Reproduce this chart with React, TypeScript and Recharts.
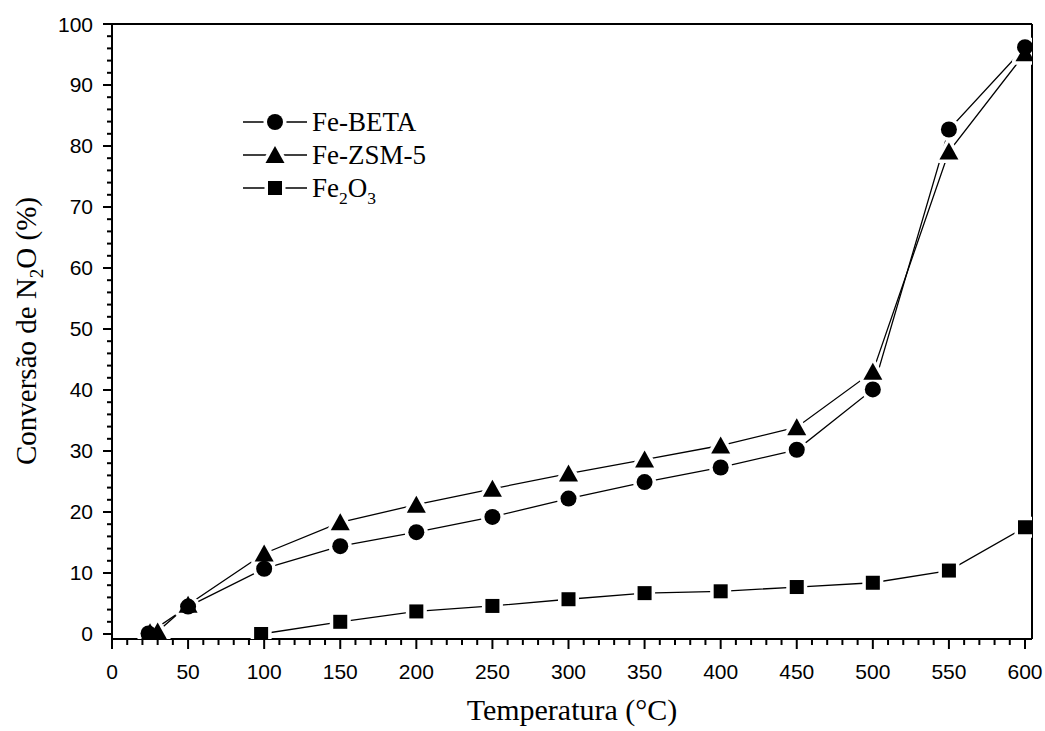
import { LineChart, Line, XAxis, YAxis, ReferenceLine } from 'recharts';

// Temperaturas (°C) e conversão de N2O (%)
const betaTemps = [24, 50, 100, 150, 200, 250, 300, 350, 400, 450, 500, 550, 600];
const betaValues = [0.1, 4.5, 10.7, 14.4, 16.7, 19.2, 22.2, 24.9, 27.3, 30.2, 40.1, 82.7, 96.2];

const zsmTemps = [25, 30, 50, 100, 150, 200, 250, 300, 350, 400, 450, 500, 550, 600];
const zsmValues = [0.3, 0.4, 4.8, 13.2, 18.3, 21.2, 23.8, 26.3, 28.6, 30.9, 33.9, 43.0, 79.1, 95.2];

const fe2o3Temps = [98, 150, 200, 250, 300, 350, 400, 450, 500, 550, 600];
const fe2o3Values = [0, 2.0, 3.7, 4.6, 5.7, 6.7, 7.0, 7.7, 8.4, 10.4, 17.5];

const xTicks = Array.from({ length: 61 }, (_, i) => i * 10);
const yTicks = Array.from({ length: 51 }, (_, i) => i * 2);
const X_MAX = 604.6;
const Y_MIN = -0.82;

type Shape = 'circle' | 'triangle' | 'square';

const series: { name: string; temps: number[]; values: number[]; shape: Shape }[] = [
  { name: 'Fe-BETA', temps: betaTemps, values: betaValues, shape: 'circle' },
  { name: 'Fe-ZSM-5', temps: zsmTemps, values: zsmValues, shape: 'triangle' },
  { name: 'Fe2O3', temps: fe2o3Temps, values: fe2o3Values, shape: 'square' },
];

const SANS = '"Liberation Sans", Arial, sans-serif';
const SERIF = '"Liberation Serif", "Times New Roman", serif';

function Marker({ cx, cy, shape, halo }: { cx: number; cy: number; shape: Shape; halo?: boolean }) {
  const st = halo ? { stroke: '#fff', strokeWidth: 7, fill: '#fff' } : { stroke: 'none', fill: '#000' };
  if (shape === 'circle') return <circle cx={cx} cy={cy} r={8} {...st} />;
  if (shape === 'square') return <rect x={cx - 7} y={cy - 7} width={14} height={14} {...st} />;
  return (
    <polygon
      points={`${cx},${cy - 9} ${cx + 9.5},${cy + 8} ${cx - 9.5},${cy + 8}`}
      strokeLinejoin="round"
      {...st}
    />
  );
}

// "Fe2O3" -> Fe₂O₃ com tspans
function Formula({ text, size }: { text: string; size: number }) {
  const parts = text.split(/(?<=[A-Za-z])(\d)/).filter((p) => p !== '');
  let prevSub = false;
  return (
    <>
      {parts.map((p, i) => {
        const sub = /^\d$/.test(p) && i > 0 && /[A-Za-z]$/.test(parts[i - 1]);
        const dy = sub && !prevSub ? size * 0.25 : !sub && prevSub ? -size * 0.25 : 0;
        prevSub = sub;
        return (
          <tspan key={i} dy={dy} fontSize={sub ? size * 0.65 : size}>
            {p}
          </tspan>
        );
      })}
    </>
  );
}

function XTick(props: any) {
  const { x, y, payload } = props;
  const v = Number(payload.value);
  const major = v % 50 === 0;
  return (
    <g>
      <line x1={x} x2={x} y1={y} y2={y + (major ? 10 : 6)} stroke="#000" strokeWidth={2} />
      <text x={x} y={y + 40} textAnchor="middle" fontFamily={SANS} fontSize={21} fill="#000">
        {major ? v : ''}
      </text>
    </g>
  );
}

function YTick(props: any) {
  const { x, y, payload } = props;
  const v = Number(payload.value);
  const major = v % 10 === 0;
  return (
    <g>
      <line x1={x} x2={x - (major ? 9 : 5)} y1={y} y2={y} stroke="#000" strokeWidth={2} />
      <text x={x - 19} y={y + 7.5} textAnchor="end" fontFamily={SANS} fontSize={21} fill="#000">
        {major ? v : ''}
      </text>
    </g>
  );
}

// legenda e títulos dos eixos, sobrepostos ao gráfico
function Overlay() {
  return (
    <svg width={1045} height={731} style={{ position: 'absolute', left: 0, top: 0, pointerEvents: 'none' }}>
      {series.map((s, i) => {
        const cy = 122 + i * 33;
        return (
          <g key={s.name}>
            <line x1={243} x2={307} y1={cy} y2={cy} stroke="#000" strokeWidth={1.3} />
            <Marker cx={275} cy={cy} shape={s.shape} halo />
            <Marker cx={275} cy={cy} shape={s.shape} />
            <text x={312} y={cy + 9} fontFamily={SERIF} fontSize={27} fill="#000">
              <Formula text={s.name} size={27} />
            </text>
          </g>
        );
      })}
      <text x={572} y={720} textAnchor="middle" fontFamily={SERIF} fontSize={30} fill="#000">
        Temperatura (°C)
      </text>
      <text
        x={36}
        y={331}
        transform="rotate(-90 36 331)"
        textAnchor="middle"
        fontFamily={SERIF}
        fontSize={29}
        fill="#000"
      >
        Conversão de N
        <tspan dy={7} fontSize={19}>2</tspan>
        <tspan dy={-7}>O (%)</tspan>
      </text>
    </svg>
  );
}

export default function App() {
  return (
    <div style={{ position: 'absolute', left: 0, top: 0, width: 1045, height: 731, background: '#fff' }}>
      <LineChart width={1045} height={731} margin={{ top: 24, right: 13, bottom: 0, left: 52 }}>
        <XAxis
          dataKey="t"
          type="number"
          domain={[0, X_MAX]}
          allowDataOverflow
          ticks={xTicks}
          interval={0}
          height={92}
          tickSize={0}
          tickMargin={0}
          tick={(p: any) => <XTick {...p} />}
          axisLine={{ stroke: '#000', strokeWidth: 2 }}
        />
        <YAxis
          type="number"
          domain={[Y_MIN, 100]}
          allowDataOverflow
          ticks={yTicks}
          interval={0}
          width={60}
          tickSize={0}
          tickMargin={0}
          tick={(p: any) => <YTick {...p} />}
          axisLine={{ stroke: '#000', strokeWidth: 2 }}
        />
        {/* moldura superior e direita */}
        <ReferenceLine y={100} stroke="#000" strokeWidth={2} />
        <ReferenceLine x={X_MAX} stroke="#000" strokeWidth={2} />
        {/* linhas finas com recorte branco ao redor dos símbolos */}
        {series.map((s) => (
          <Line
            key={s.name}
            data={s.temps.map((t, i) => ({ t, v: s.values[i] }))}
            dataKey="v"
            name={s.name}
            type="linear"
            stroke="#000"
            strokeWidth={1.3}
            isAnimationActive={false}
            activeDot={false}
            dot={(p: any) => <Marker key={`h-${s.name}-${p.index}`} cx={p.cx} cy={p.cy} shape={s.shape} halo />}
          />
        ))}
        {/* símbolos pretos por cima */}
        {series.map((s) => (
          <Line
            key={`m-${s.name}`}
            data={s.temps.map((t, i) => ({ t, v: s.values[i] }))}
            dataKey="v"
            name={`${s.name} símbolos`}
            type="linear"
            stroke="none"
            isAnimationActive={false}
            activeDot={false}
            dot={(p: any) => <Marker key={`m-${s.name}-${p.index}`} cx={p.cx} cy={p.cy} shape={s.shape} />}
          />
        ))}
      </LineChart>
      <Overlay />
    </div>
  );
}
